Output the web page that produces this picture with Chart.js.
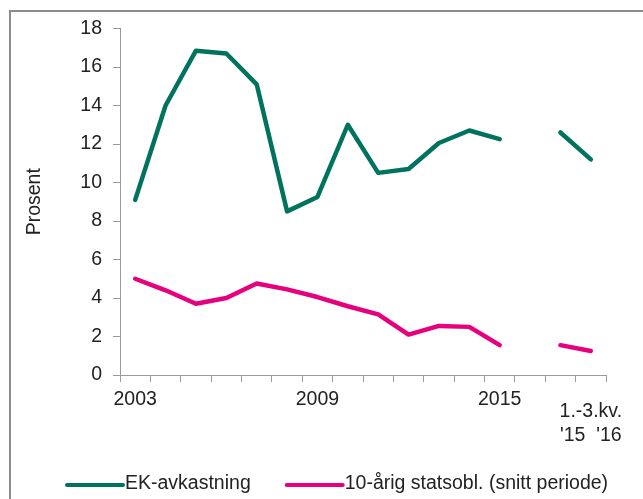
<!DOCTYPE html>
<html><head><meta charset="utf-8">
<script src="https://cdn.jsdelivr.net/npm/chart.js@4.4.1/dist/chart.umd.min.js"></script>
<style>html,body{margin:0;padding:0;background:#fff}#wrap{width:643px;height:499px;position:relative}</style>
</head><body><div id="wrap"><canvas id="c" width="643" height="499"></canvas></div>
<script>
// ---- data ----
const categories = ['2003','2004','2005','2006','2007','2008','2009','2010','2011','2012','2013','2014','2015','',"1.-3.kv. '15","1.-3.kv. '16"];
const xTickLabels = [['2003'],[''],[''],[''],[''],[''],['2009'],[''],[''],[''],[''],[''],['2015'],[''],[''],['', '1.-3.kv.', '', "'15  '16"]];
const ekAvkastning = [9.1, 14.0, 16.85, 16.7, 15.1, 8.5, 9.25, 13.0, 10.5, 10.7, 12.05, 12.7, 12.25, null, 12.6, 11.2];
const statsobl = [5.0, 4.4, 3.7, 4.0, 4.75, 4.45, 4.05, 3.57, 3.15, 2.1, 2.55, 2.5, 1.55, null, 1.55, 1.25];
const seriesNames = ['EK-avkastning', '10-årig statsobl. (snitt periode)'];
const yMin = 0, yMax = 18, yStep = 2;
const yTitle = 'Prosent';

// ---- styles ----
const GREEN = '#00735F', PINK = '#E6007E', AXIS = '#9a9a9a', TEXT = '#222222';
const FONT = "'Liberation Sans', Arial, sans-serif";
const FS = 19.5;

const framePlugin = {
  id: 'frame',
  beforeDraw(chart) {
    const ctx = chart.ctx;
    ctx.save();
    ctx.fillStyle = '#8c8c8c';
    ctx.fillRect(9, 10, 643, 2);
    ctx.fillRect(9, 10, 2, 499);
    ctx.restore();
  }
};

const legendPlugin = {
  id: 'customLegend',
  afterDraw(chart) {
    const ctx = chart.ctx;
    ctx.save();
    ctx.font = FS + 'px ' + FONT;
    ctx.textBaseline = 'middle';
    ctx.textAlign = 'left';
    let x = 67;
    const y = 485;
    chart.data.datasets.forEach((ds, i) => {
      ctx.strokeStyle = ds.borderColor;
      ctx.lineWidth = 4;
      ctx.lineCap = 'round';
      ctx.beginPath();
      ctx.moveTo(x, y);
      ctx.lineTo(x + 56, y);
      ctx.stroke();
      ctx.fillStyle = TEXT;
      ctx.fillText(ds.label, x + 58, y - 1);
      x += 58 + ctx.measureText(ds.label).width + 36;
    });
    ctx.restore();
  }
};

new Chart(document.getElementById('c'), {
  type: 'line',
  data: {
    labels: categories,
    datasets: [
      { label: seriesNames[0], data: ekAvkastning, borderColor: GREEN, backgroundColor: GREEN,
        borderWidth: 4.5, pointRadius: 0, spanGaps: false, tension: 0,
        borderJoinStyle: 'round', borderCapStyle: 'round' },
      { label: seriesNames[1], data: statsobl, borderColor: PINK, backgroundColor: PINK,
        borderWidth: 4.5, pointRadius: 0, spanGaps: false, tension: 0,
        borderJoinStyle: 'round', borderCapStyle: 'round' }
    ]
  },
  options: {
    responsive: false,
    animation: false,
    devicePixelRatio: 1,
    layout: { padding: { top: 28.5, right: 37, bottom: 0, left: 0 } },
    plugins: { legend: { display: false }, tooltip: { enabled: false } },
    scales: {
      x: {
        type: 'category',
        offset: true,
        afterFit(s) { s.height = 124; },
        grid: { drawOnChartArea: false, drawTicks: true, tickLength: 7, color: AXIS, offset: true },
        border: { display: true, color: AXIS, width: 1 },
        ticks: {
          autoSkip: false, maxRotation: 0, minRotation: 0, padding: 12,
          color: TEXT, font: { family: FONT, size: FS, lineHeight: '12px' },
          callback: (v, i) => xTickLabels[i]
        }
      },
      y: {
        min: yMin, max: yMax,
        afterFit(s) { s.width = 120; },
        grid: { drawOnChartArea: false, drawTicks: true, tickLength: 7, color: AXIS },
        border: { display: true, color: AXIS, width: 1 },
        ticks: { stepSize: yStep, padding: 11, color: TEXT, font: { family: FONT, size: FS } },
        title: { display: true, text: yTitle, color: TEXT, font: { family: FONT, size: FS }, padding: { top: 23, bottom: 0 } }
      }
    }
  },
  plugins: [framePlugin, legendPlugin]
});
</script>
</body></html>
